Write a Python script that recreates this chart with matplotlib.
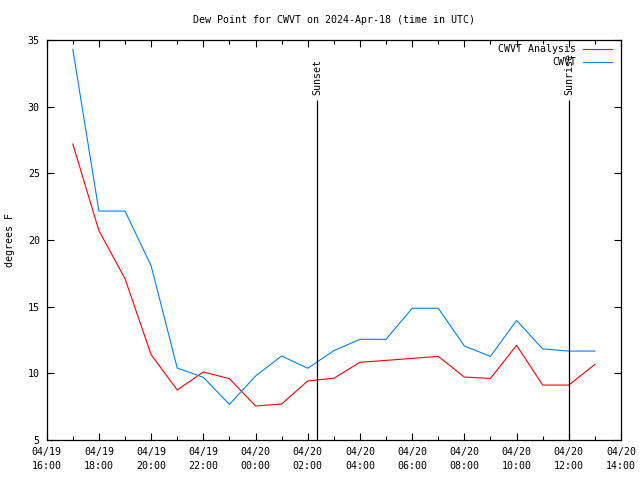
import numpy as np
import pandas as pd
import matplotlib
matplotlib.use('Agg')
import matplotlib.pyplot as plt
import matplotlib.dates as mdates

plt.rcParams['font.family'] = ['DejaVu Sans Mono']
plt.rcParams['font.size'] = 7.2

# hourly observation times (UTC)
times = ['2024-04-19 17:00', '2024-04-19 18:00', '2024-04-19 19:00', '2024-04-19 20:00',
         '2024-04-19 21:00', '2024-04-19 22:00', '2024-04-19 23:00', '2024-04-20 00:00',
         '2024-04-20 01:00', '2024-04-20 02:00', '2024-04-20 03:00', '2024-04-20 04:00',
         '2024-04-20 05:00', '2024-04-20 06:00', '2024-04-20 07:00', '2024-04-20 08:00',
         '2024-04-20 09:00', '2024-04-20 10:00', '2024-04-20 11:00', '2024-04-20 12:00',
         '2024-04-20 13:00']

analysis = [27.2, 20.7, 17.1, 11.4, 8.75, 10.1, 9.6, 7.55, 7.7, 9.43, 9.63,
            10.83, 10.97, 11.12, 11.27, 9.72, 9.62, 12.1, 9.12, 9.12, 10.67]
observed = [34.3, 22.17, 22.17, 18.07, 10.4, 9.7, 7.67, 9.8, 11.3, 10.38, 11.7,
            12.55, 12.55, 14.88, 14.88, 12.05, 11.27, 13.97, 11.83, 11.67, 11.67]

x_start = '2024-04-19 16:00'
x_end = '2024-04-20 14:00'
sunset = '2024-04-20 02:22'
sunrise = '2024-04-20 12:01'
y_min, y_max = 5, 35
sun_line_top = 30.5

t = pd.to_datetime(times)

fig = plt.figure(figsize=(6.4, 4.8), dpi=100)
ax_left, ax_right = 46.7 / 640, 621 / 640
ax = fig.add_axes([ax_left, 40 / 480, ax_right - ax_left, 400 / 480])

ax.plot(t, analysis, color='#ff0000', linewidth=0.8)
ax.plot(t, observed, color='#0080ff', linewidth=0.8)

for when, name in [(sunset, 'Sunset'), (sunrise, 'Sunrise')]:
    ts = pd.Timestamp(when)
    ax.vlines(ts, y_min, sun_line_top, color='black', linewidth=0.9)
    ax.text(ts, sun_line_top + 0.4, name, rotation=90, ha='center', va='bottom')

ax.set_xlim(pd.Timestamp(x_start), pd.Timestamp(x_end))
ax.set_ylim(y_min, y_max)
ax.xaxis.set_major_locator(mdates.HourLocator(byhour=range(0, 24, 2)))
ax.xaxis.set_minor_locator(mdates.HourLocator())
ax.xaxis.set_major_formatter(mdates.DateFormatter('%m/%d\n%H:%M'))
ax.set_yticks(np.arange(5, 36, 5))

ax.tick_params(which='both', direction='in', top=True, right=True, width=0.8,
               colors='black')
ax.tick_params(which='major', length=5, pad=5)
ax.tick_params(which='minor', length=3)
for lbl in ax.get_xticklabels():
    lbl.set_linespacing(1.45)
for s in ax.spines.values():
    s.set_linewidth(0.9)

# legend drawn gnuplot style: right aligned text, sample line after it
legend_items = [('CWVT Analysis', '#ff0000'), ('CWVT', '#0080ff')]
for i, (label, col) in enumerate(legend_items):
    yy = 0.9775 - i * 0.0325
    ax.text(0.9217, yy, label, transform=ax.transAxes, ha='right', va='center')
    ax.plot([0.933, 0.984], [yy, yy], color=col, linewidth=0.8,
            transform=ax.transAxes)

fig.text((ax_left + ax_right) / 2, 1 - 20 / 480,
         'Dew Point for CWVT on 2024-Apr-18 (time in UTC)',
         ha='center', va='center')
fig.text(10 / 640, 0.5, 'degrees F', rotation=90, ha='center', va='center')

fig.savefig('out.png', dpi=100)
